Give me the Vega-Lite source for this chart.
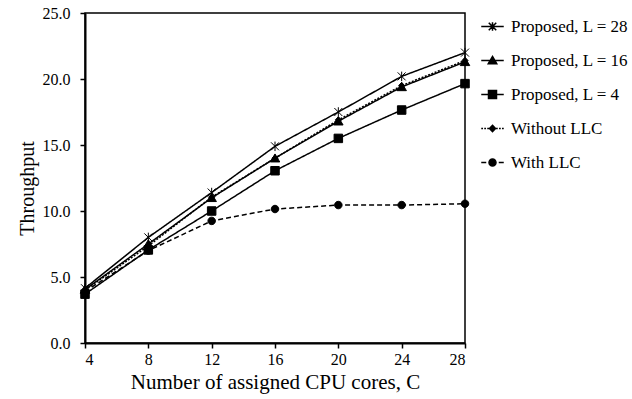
{
  "$schema": "https://vega.github.io/schema/vega-lite/v6.json",
  "width": 380,
  "height": 330,
  "autosize": {"type": "none"},
  "padding": {"left": 85, "top": 13, "right": 167, "bottom": 56},
  "background": "white",
  "config": {
    "font": "Liberation Serif",
    "view": {"stroke": "black", "strokeWidth": 1.5},
    "axis": {
      "grid": false,
      "domainColor": "black",
      "domainWidth": 2,
      "tickColor": "black",
      "tickWidth": 1.5,
      "tickSize": 5,
      "labelColor": "black",
      "labelFont": "Liberation Serif",
      "labelFontSize": 16,
      "titleColor": "black",
      "titleFont": "Liberation Serif",
      "titleFontSize": 20,
      "titleFontWeight": "normal"
    }
  },
  "data": {
    "values": [
      {"cores": 4, "series": "Proposed, L = 28", "throughput": 4.15},
      {"cores": 8, "series": "Proposed, L = 28", "throughput": 8.0},
      {"cores": 12, "series": "Proposed, L = 28", "throughput": 11.4},
      {"cores": 16, "series": "Proposed, L = 28", "throughput": 14.9},
      {"cores": 20, "series": "Proposed, L = 28", "throughput": 17.5},
      {"cores": 24, "series": "Proposed, L = 28", "throughput": 20.2},
      {"cores": 28, "series": "Proposed, L = 28", "throughput": 22.0},
      {"cores": 4, "series": "Proposed, L = 16", "throughput": 4.05},
      {"cores": 8, "series": "Proposed, L = 16", "throughput": 7.5},
      {"cores": 12, "series": "Proposed, L = 16", "throughput": 11.0},
      {"cores": 16, "series": "Proposed, L = 16", "throughput": 14.0},
      {"cores": 20, "series": "Proposed, L = 16", "throughput": 16.8},
      {"cores": 24, "series": "Proposed, L = 16", "throughput": 19.4},
      {"cores": 28, "series": "Proposed, L = 16", "throughput": 21.3},
      {"cores": 4, "series": "Proposed, L = 4", "throughput": 3.7},
      {"cores": 8, "series": "Proposed, L = 4", "throughput": 7.05},
      {"cores": 12, "series": "Proposed, L = 4", "throughput": 10.0},
      {"cores": 16, "series": "Proposed, L = 4", "throughput": 13.05},
      {"cores": 20, "series": "Proposed, L = 4", "throughput": 15.5},
      {"cores": 24, "series": "Proposed, L = 4", "throughput": 17.65},
      {"cores": 28, "series": "Proposed, L = 4", "throughput": 19.65},
      {"cores": 4, "series": "Without LLC", "throughput": 4.0},
      {"cores": 8, "series": "Without LLC", "throughput": 7.35},
      {"cores": 12, "series": "Without LLC", "throughput": 11.05},
      {"cores": 16, "series": "Without LLC", "throughput": 14.0},
      {"cores": 20, "series": "Without LLC", "throughput": 16.9},
      {"cores": 24, "series": "Without LLC", "throughput": 19.5},
      {"cores": 28, "series": "Without LLC", "throughput": 21.4},
      {"cores": 4, "series": "With LLC", "throughput": 3.9},
      {"cores": 8, "series": "With LLC", "throughput": 7.0},
      {"cores": 12, "series": "With LLC", "throughput": 9.25},
      {"cores": 16, "series": "With LLC", "throughput": 10.15},
      {"cores": 20, "series": "With LLC", "throughput": 10.45},
      {"cores": 24, "series": "With LLC", "throughput": 10.45},
      {"cores": 28, "series": "With LLC", "throughput": 10.55}
    ]
  },
  "encoding": {
    "x": {
      "field": "cores",
      "type": "quantitative",
      "title": "Number of assigned CPU cores, C",
      "scale": {"domain": [4, 28], "nice": false, "zero": false},
      "axis": {"values": [4, 8, 12, 16, 20, 24, 28], "labelPadding": 3, "titlePadding": 4, "titleFontSize": 21}
    },
    "y": {
      "field": "throughput",
      "type": "quantitative",
      "title": "Throughput",
      "scale": {"domain": [0, 25], "nice": false},
      "axis": {"values": [0, 5, 10, 15, 20, 25], "format": ".1f", "labelPadding": 10, "titlePadding": 5, "titleY": 175}
    }
  },
  "layer": [
    {
      "mark": {"type": "line", "color": "black", "strokeWidth": 1.5},
      "encoding": {
        "strokeDash": {
          "field": "series",
          "type": "nominal",
          "scale": {
            "domain": ["With LLC", "Without LLC", "Proposed, L = 4", "Proposed, L = 16", "Proposed, L = 28"],
            "range": [[5, 3], [2, 1.5], [1, 0], [1, 0], [1, 0]]
          },
          "legend": null
        }
      }
    },
    {
      "mark": {"type": "point", "filled": true, "color": "black", "stroke": "black", "strokeWidth": 1, "opacity": 1, "size": 100},
      "encoding": {
        "shape": {
          "field": "series",
          "type": "nominal",
          "scale": {
            "domain": ["With LLC", "Without LLC", "Proposed, L = 4", "Proposed, L = 16", "Proposed, L = 28"],
            "range": [
              "M-0.75,0A0.75,0.75 0 1,0 0.75,0A0.75,0.75 0 1,0 -0.75,0Z",
              "M0,-0.65L0.6,0L0,0.65L-0.6,0Z",
              "M-0.85,-0.85L0.85,-0.85L0.85,0.85L-0.85,0.85Z",
              "M0,-0.85L0.95,0.75L-0.95,0.75Z",
              "M-0.8,-0.8L0.8,0.8M-0.8,0.8L0.8,-0.8M0,-0.95L0,0.95"
            ]
          },
          "legend": null
        }
      }
    },
    {
      "description": "Key: each symbol is a short line sample with its marker",
      "transform": [{"filter": "false"}],
      "mark": {"type": "point", "filled": true, "color": "black", "stroke": "black", "strokeWidth": 1.5, "opacity": 1},
      "encoding": {
        "shape": {
          "field": "series",
          "type": "nominal",
          "scale": {
            "domain": ["Proposed, L = 28", "Proposed, L = 16", "Proposed, L = 4", "Without LLC", "With LLC"],
            "range": [
              "M-0.9,0L0.9,0M-0.3,-0.3L0.3,0.3M-0.3,0.3L0.3,-0.3M0,-0.34L0,0.34",
              "M-0.9,0L0.9,0M0,-0.32L0.34,0.26L-0.34,0.26Z",
              "M-0.9,0L0.9,0M-0.32,-0.32L0.32,-0.32L0.32,0.32L-0.32,0.32Z",
              "M-0.9,0L-0.76,0M-0.66,0L-0.52,0M-0.42,0L-0.28,0M0.28,0L0.42,0M0.52,0L0.66,0M0.76,0L0.9,0M0,-0.26L0.24,0L0,0.26L-0.24,0Z",
              "M-0.9,0L-0.5,0M0.5,0L0.9,0M-0.28,0A0.28,0.28 0 1,0 0.28,0A0.28,0.28 0 1,0 -0.28,0Z"
            ]
          },
          "legend": {
            "title": null,
            "orient": "right",
            "offset": 11,
            "padding": 0,
            "rowPadding": 12,
            "labelFont": "Liberation Serif",
            "labelFontSize": 17,
            "labelColor": "black",
            "labelOffset": 5,
            "symbolSize": 625,
            "symbolStrokeWidth": 1.5,
            "encode": {
              "symbols": {
                "fill": {"value": "black"},
                "stroke": {"value": "black"},
                "strokeWidth": {"value": 1.5},
                "opacity": {"value": 1}
              }
            }
          }
        }
      }
    }
  ],
  "resolve": {"scale": {"shape": "independent"}}
}
